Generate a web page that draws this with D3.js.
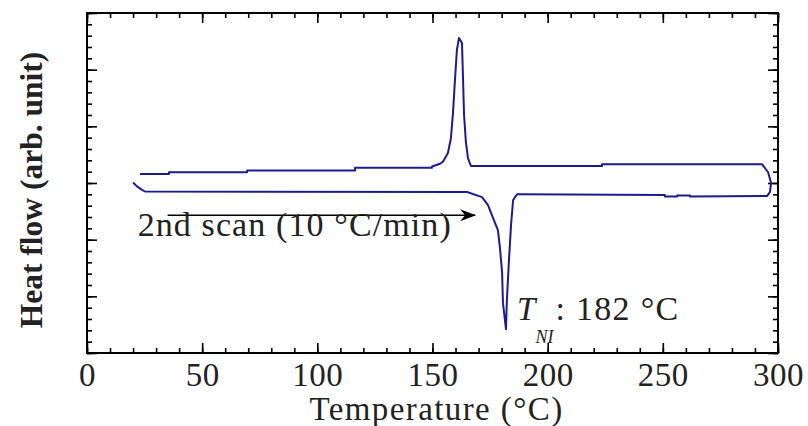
<!DOCTYPE html>
<html>
<head>
<meta charset="utf-8">
<script src="https://cdn.jsdelivr.net/npm/d3@7"></script>
<style>
  body { margin: 0; background: #fff; }
  svg { display: block; font-family: "Liberation Serif", "Times New Roman", serif; }
  .axis path { display: none; }
  .axis line { stroke: #000; stroke-width: 1.6; }
  .axis text { font-size: 33px; fill: #222; font-family: "Liberation Serif", serif; letter-spacing: 0.5px; }
</style>
</head>
<body>
<svg width="808" height="426"></svg>
<script>
// 2nd heating scan (lower trace, left to right, then the turn at 297 °C)
var heatT = [20.0, 21.7, 23.9, 25.2, 165.0, 171.5, 174.1, 176.3, 178.4, 179.3, 180.2, 180.6, 181.9,
             182.3, 183.2, 184.1, 185.0, 186.7, 188.0, 250.9, 250.9, 256.2, 256.2, 261.8, 261.8,
             295.2, 296.5, 297.0, 295.7, 293.1];
var heatFlow = [3.01, 2.94, 2.88, 2.85, 2.84, 2.75, 2.61, 2.38, 2.17, 1.85, 1.43, 0.88, 0.42,
                0.94, 1.64, 2.26, 2.70, 2.80, 2.80, 2.79, 2.76, 2.76, 2.78, 2.78, 2.76,
                2.77, 2.84, 3.00, 3.19, 3.33];

// cooling trace (upper, right to left)
var coolT = [293.1, 223.6, 223.6, 166.7, 165.4, 164.5, 163.7, 163.2, 162.8, 161.5, 160.6, 159.8,
             158.9, 158.0, 156.7, 154.6, 153.3, 149.8, 149.8, 116.4, 116.4, 69.5, 69.5, 35.6, 35.6, 23.0];
var coolFlow = [3.33, 3.33, 3.30, 3.30, 3.44, 3.72, 4.20, 4.91, 5.47, 5.56, 5.35, 4.85,
                4.24, 3.79, 3.53, 3.38, 3.34, 3.29, 3.27, 3.27, 3.22, 3.22, 3.19, 3.19, 3.16, 3.16];

var xMajor = [0, 50, 100, 150, 200, 250, 300];
var xMinor = d3.range(0, 301, 10);
var yMajor = [0, 1, 2, 3, 4, 5, 6];
var yMinor = d3.range(0, 30.5, 1).map(function(d) { return d / 5; });

var svg = d3.select("svg"),
    margin = {top: 13, right: 30, bottom: 73, left: 87},
    width = +svg.attr("width") - margin.left - margin.right,
    height = +svg.attr("height") - margin.top - margin.bottom;

var x = d3.scaleLinear().domain([0, 300]).range([0, width]);
var y = d3.scaleLinear().domain([0, 6]).range([height, 0]);

var g = svg.append("g")
  .attr("transform", "translate(" + margin.left + "," + margin.top + ")");

// ticks point inward on all four sides
g.append("g").attr("class", "axis")
  .attr("transform", "translate(0," + height + ")")
  .call(d3.axisBottom(x).tickValues(xMinor).tickSize(-5).tickFormat(""));
g.append("g").attr("class", "axis")
  .attr("transform", "translate(0," + height + ")")
  .call(d3.axisBottom(x).tickValues(xMajor).tickSize(-10).tickPadding(10).tickFormat(d3.format("d")));
g.append("g").attr("class", "axis")
  .call(d3.axisTop(x).tickValues(xMinor).tickSize(-5).tickFormat(""));
g.append("g").attr("class", "axis")
  .call(d3.axisTop(x).tickValues(xMajor).tickSize(-10).tickFormat(""));
g.append("g").attr("class", "axis")
  .call(d3.axisLeft(y).tickValues(yMinor).tickSize(-5).tickFormat(""));
g.append("g").attr("class", "axis")
  .call(d3.axisLeft(y).tickValues(yMajor).tickSize(-10).tickFormat(""));
g.append("g").attr("class", "axis")
  .attr("transform", "translate(" + width + ",0)")
  .call(d3.axisRight(y).tickValues(yMinor).tickSize(-5).tickFormat(""));
g.append("g").attr("class", "axis")
  .attr("transform", "translate(" + width + ",0)")
  .call(d3.axisRight(y).tickValues(yMajor).tickSize(-10).tickFormat(""));

g.append("rect")
  .attr("width", width)
  .attr("height", height)
  .attr("fill", "none")
  .attr("stroke", "#000")
  .attr("stroke-width", 2);

var line = d3.line()
  .x(function(d) { return x(d[0]); })
  .y(function(d) { return y(d[1]); });

var trace = d3.zip(heatT, heatFlow).concat(d3.zip(coolT, coolFlow));

g.append("path")
  .datum(trace)
  .attr("fill", "none")
  .attr("stroke", "#1c1c8e")
  .attr("stroke-width", 2)
  .attr("stroke-linejoin", "round")
  .attr("d", line);

// annotation arrow
svg.append("defs").append("marker")
  .attr("id", "head")
  .attr("viewBox", "0 -7 16 14")
  .attr("refX", 15)
  .attr("refY", 0)
  .attr("markerWidth", 16)
  .attr("markerHeight", 14)
  .attr("markerUnits", "userSpaceOnUse")
  .attr("orient", "auto")
  .append("path")
  .attr("d", "M0,-6L16,0L0,6L5,0Z")
  .attr("fill", "#000");

g.append("line")
  .attr("x1", x(35)).attr("x2", x(168.5))
  .attr("y1", y(2.43)).attr("y2", y(2.43))
  .attr("stroke", "#000")
  .attr("stroke-width", 1.6)
  .attr("marker-end", "url(#head)");

g.append("text")
  .attr("x", x(22))
  .attr("y", y(2.06))
  .style("font-size", "34px")
  .style("letter-spacing", "1.1px")
  .attr("fill", "#222")
  .text("2nd scan (10 °C/min)");

var tni = g.append("text")
  .attr("x", x(186.7))
  .attr("y", y(0.58))
  .style("font-size", "33px")
  .attr("fill", "#222");
tni.append("tspan").style("font-style", "italic").text("T");
tni.append("tspan")
  .style("font-style", "italic")
  .style("font-size", "18px")
  .attr("dy", 23)
  .text("NI");
tni.append("tspan")
  .attr("dy", -23)
  .attr("dx", 2)
  .style("font-size", "34px")
  .style("letter-spacing", "1.3px")
  .text(": 182 °C");

// axis titles
svg.append("text")
  .attr("x", margin.left + width / 2 + 4)
  .attr("y", 420)
  .attr("text-anchor", "middle")
  .style("font-size", "33px")
  .style("letter-spacing", "1.4px")
  .attr("fill", "#222")
  .text("Temperature (°C)");

svg.append("text")
  .attr("transform", "translate(42,190) rotate(-90)")
  .attr("text-anchor", "middle")
  .style("font-size", "31.5px")
  .style("font-weight", "bold")
  .attr("fill", "#222")
  .text("Heat flow (arb. unit)");
</script>
</body>
</html>
